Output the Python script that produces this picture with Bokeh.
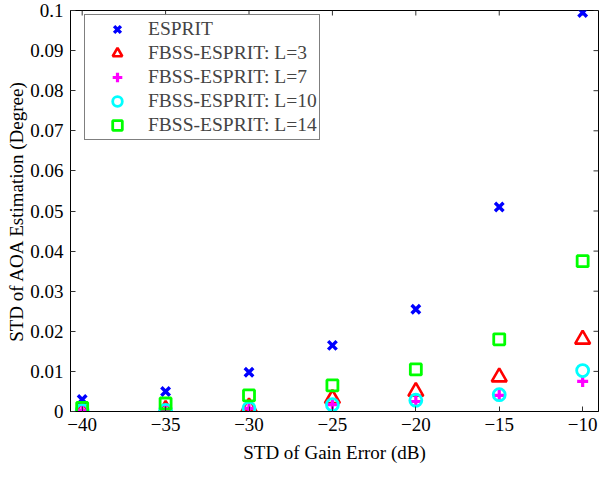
import math
from bokeh.plotting import figure
from bokeh.models import Range1d, FixedTicker, Legend, LegendItem
from bokeh.embed import file_html
from bokeh.resources import INLINE

gain_err = [-40, -35, -30, -25, -20, -15, -10]
esprit = [0.0030, 0.0050, 0.0098, 0.0165, 0.0255, 0.0510, 0.0995]
fbss_l3 = [0.0003, 0.0005, 0.0011, 0.0032, 0.0050, 0.0086, 0.0180]
fbss_l7 = [0.0003, 0.0004, 0.0008, 0.0017, 0.0025, 0.0040, 0.0075]
fbss_l10 = [0.0002, 0.0003, 0.0008, 0.0017, 0.0028, 0.0042, 0.0102]
fbss_l14 = [0.0009, 0.0020, 0.0040, 0.0065, 0.0105, 0.0180, 0.0375]

x_ticks = [-40, -35, -30, -25, -20, -15, -10]
y_ticks = [0, 0.01, 0.02, 0.03, 0.04, 0.05, 0.06, 0.07, 0.08, 0.09, 0.1]
y_tick_labels = ["0", "0.01", "0.02", "0.03", "0.04", "0.05", "0.06", "0.07", "0.08", "0.09", "0.1"]

FONT = "Liberation Serif"
FS = "19px"

xr = Range1d(-40.7, -9.05)
yr = Range1d(0, 0.1)

p = figure(width=599, height=485, output_backend="svg", toolbar_location=None,
           x_range=xr, y_range=yr,
           min_border_left=70, min_border_top=10, min_border_right=1, min_border_bottom=74)
p.background_fill_color = "white"
p.border_fill_color = "white"
p.outline_line_color = "black"
p.outline_line_width = 1
p.xgrid.visible = False
p.ygrid.visible = False

for ax in (p.xaxis[0], p.yaxis[0]):
    ax.axis_line_color = "black"
    ax.major_tick_in = 5
    ax.major_tick_out = 0
    ax.minor_tick_line_color = None
    ax.major_tick_line_color = "#333333"
    ax.major_label_text_font = FONT
    ax.major_label_text_font_size = FS
    ax.major_label_text_color = "black"
    ax.axis_label_text_font = FONT
    ax.axis_label_text_font_size = FS
    ax.axis_label_text_font_style = "normal"
    ax.axis_label_text_color = "black"

p.xaxis.ticker = FixedTicker(ticks=x_ticks)
p.yaxis.ticker = FixedTicker(ticks=y_ticks)
p.yaxis.major_label_overrides = {t: l for t, l in zip(y_ticks, y_tick_labels)}
p.xaxis.axis_label = "STD of Gain Error (dB)"
p.yaxis.axis_label = "STD of AOA Estimation (Degree)"
p.xaxis.major_label_standoff = 6
p.xaxis.axis_label_standoff = 8
p.yaxis.major_label_standoff = 7
p.yaxis.axis_label_standoff = 0

# inward tick marks on the top and right sides of the box
p.ray(x=x_ticks, y=[yr.end] * len(x_ticks), length=5, length_units="screen",
      angle=-math.pi / 2, line_color="#333333", line_width=1)
p.ray(x=[xr.end] * len(y_ticks), y=y_ticks, length=5, length_units="screen",
      angle=math.pi, line_color="#333333", line_width=1)

r1 = p.scatter(gain_err, esprit, marker="x", size=12, line_color="blue", line_width=3.4)
r2 = p.scatter(gain_err, fbss_l3, marker="triangle", size=15, line_color="red", fill_color=None, line_width=2.6)
r3 = p.scatter(gain_err, fbss_l7, marker="cross", size=11, line_color="magenta", line_width=3.2)
r4 = p.scatter(gain_err, fbss_l10, marker="circle", size=12, line_color="cyan", fill_color=None, line_width=2.8)
r5 = p.scatter(gain_err, fbss_l14, marker="square", size=11, line_color="lime", fill_color=None, line_width=2.8)

legend = Legend(items=[
    LegendItem(label="ESPRIT", renderers=[r1]),
    LegendItem(label="FBSS-ESPRIT: L=3", renderers=[r2]),
    LegendItem(label="FBSS-ESPRIT: L=7", renderers=[r3]),
    LegendItem(label="FBSS-ESPRIT: L=10", renderers=[r4]),
    LegendItem(label="FBSS-ESPRIT: L=14", renderers=[r5]),
], location=(14, 271))
legend.label_text_font = FONT
legend.label_text_font_size = "19.5px"
legend.border_line_color = "black"
legend.border_line_width = 1
legend.margin = 0
legend.padding = 2
legend.spacing = 0
legend.glyph_width = 60
legend.glyph_height = 24
legend.label_height = 24
legend.label_standoff = 1
p.add_layout(legend, "center")

open("out.html", "w").write(file_html(p, INLINE))
